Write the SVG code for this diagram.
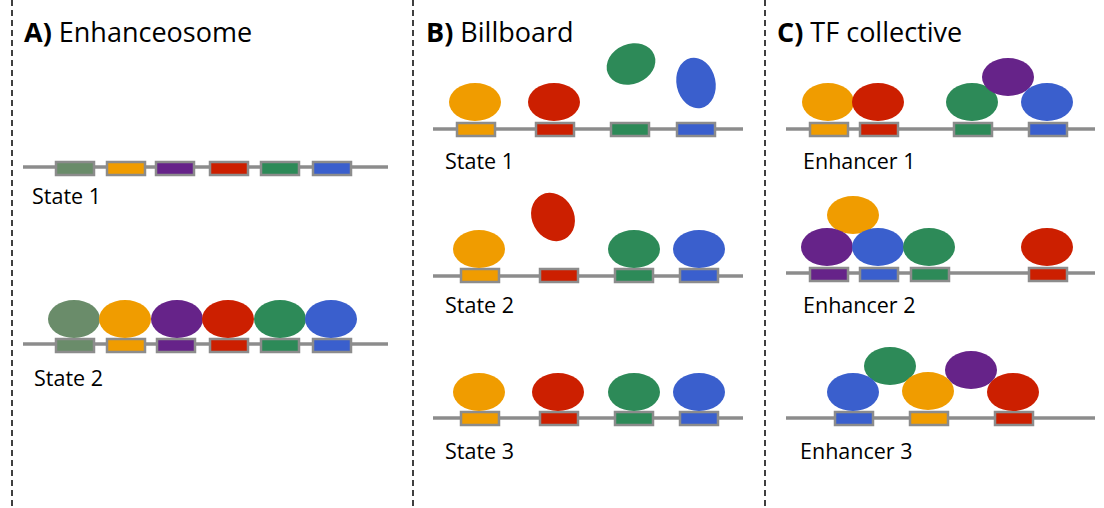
<svg xmlns="http://www.w3.org/2000/svg" width="1104" height="508" viewBox="0 0 1104 508">
<style>
.bg{fill:#ffffff}
.div{stroke:#000;stroke-width:1.5;stroke-dasharray:6 4;fill:none}
.dna{stroke:#8c8c8c;stroke-width:3.5;fill:none}
.box{stroke:#8c8c8c;stroke-width:2.5}
.t{font-family:"Open Sans","Noto Sans",sans-serif;fill:#000}
.title{font-size:27px}
.lbl{font-size:21.5px}
.b{font-weight:bold}
.sg{fill:#6a8c6a}
.or{fill:#f09c00}
.pu{fill:#662389}
.rd{fill:#cc1f00}
.gr{fill:#2d8a58}
.bl{fill:#3a5fcd}
</style>
<rect class="bg" x="0" y="0" width="1104" height="508"/>
<g id="dividers">
<line class="div" x1="12" y1="0" x2="12" y2="508"/>
<line class="div" x1="413" y1="0" x2="413" y2="508"/>
<line class="div" x1="765" y1="0" x2="765" y2="508"/>
</g>

<g id="panelA">
<text class="t title" x="24" y="42"><tspan class="b">A)</tspan> Enhanceosome</text>
<g id="A-state1">
<line class="dna" x1="23" y1="167" x2="388" y2="167"/>
<rect class="box sg" x="56" y="162" width="38" height="13"/>
<rect class="box or" x="107" y="162" width="38" height="13"/>
<rect class="box pu" x="156" y="162" width="38" height="13"/>
<rect class="box rd" x="210" y="162" width="38" height="13"/>
<rect class="box gr" x="261" y="162" width="38" height="13"/>
<rect class="box bl" x="313" y="162" width="38" height="13"/>
<text class="t lbl" x="32" y="204">State 1</text>
</g>
<g id="A-state2">
<line class="dna" x1="23" y1="344" x2="388" y2="344"/>
<rect class="box sg" x="56" y="339" width="38" height="13"/>
<rect class="box or" x="107" y="339" width="38" height="13"/>
<rect class="box pu" x="157" y="339" width="38" height="13"/>
<rect class="box rd" x="210" y="339" width="38" height="13"/>
<rect class="box gr" x="261" y="339" width="38" height="13"/>
<rect class="box bl" x="313" y="339" width="38" height="13"/>
<ellipse class="sg" cx="74" cy="319" rx="26" ry="19"/>
<ellipse class="or" cx="125" cy="319" rx="26" ry="19"/>
<ellipse class="pu" cx="177" cy="319" rx="26" ry="19"/>
<ellipse class="rd" cx="228" cy="319" rx="26" ry="19"/>
<ellipse class="gr" cx="280" cy="319" rx="26" ry="19"/>
<ellipse class="bl" cx="331" cy="319" rx="26" ry="19"/>
<text class="t lbl" x="34" y="386">State 2</text>
</g>
</g>

<g id="panelB">
<text class="t title" x="426" y="42"><tspan class="b">B)</tspan> Billboard</text>
<g id="B-state1">
<line class="dna" x1="433" y1="129" x2="743" y2="129"/>
<rect class="box or" x="457" y="123" width="38" height="13"/>
<rect class="box rd" x="536" y="123" width="38" height="13"/>
<rect class="box gr" x="611" y="123" width="38" height="13"/>
<rect class="box bl" x="677" y="123" width="38" height="13"/>
<ellipse class="or" cx="475" cy="102" rx="26" ry="19"/>
<ellipse class="rd" cx="554" cy="102" rx="26" ry="19"/>
<ellipse class="gr" cx="631" cy="64" rx="25" ry="20" transform="rotate(-22 631 64)"/>
<ellipse class="bl" cx="696" cy="83" rx="19.5" ry="25.5" transform="rotate(-12 696 83)"/>
<text class="t lbl" x="445" y="169">State 1</text>
</g>
<g id="B-state2">
<line class="dna" x1="433" y1="276" x2="743" y2="276"/>
<rect class="box or" x="461" y="269" width="38" height="13"/>
<rect class="box rd" x="540" y="269" width="38" height="13"/>
<rect class="box gr" x="615" y="269" width="38" height="13"/>
<rect class="box bl" x="680" y="269" width="38" height="13"/>
<ellipse class="or" cx="479" cy="249" rx="26" ry="19"/>
<ellipse class="rd" cx="553" cy="217" rx="21" ry="25" transform="rotate(-28 553 217)"/>
<ellipse class="gr" cx="634" cy="249" rx="26" ry="19"/>
<ellipse class="bl" cx="699" cy="249" rx="26" ry="19"/>
<text class="t lbl" x="445" y="313">State 2</text>
</g>
<g id="B-state3">
<line class="dna" x1="433" y1="418" x2="743" y2="418"/>
<rect class="box or" x="461" y="412" width="38" height="13"/>
<rect class="box rd" x="540" y="412" width="38" height="13"/>
<rect class="box gr" x="615" y="412" width="38" height="13"/>
<rect class="box bl" x="680" y="412" width="38" height="13"/>
<ellipse class="or" cx="479" cy="392" rx="26" ry="19"/>
<ellipse class="rd" cx="558" cy="392" rx="26" ry="19"/>
<ellipse class="gr" cx="634" cy="392" rx="26" ry="19"/>
<ellipse class="bl" cx="699" cy="392" rx="26" ry="19"/>
<text class="t lbl" x="445" y="459">State 3</text>
</g>
</g>

<g id="panelC">
<text class="t title" x="777" y="42"><tspan class="b">C)</tspan> TF collective</text>
<g id="C-enhancer1">
<line class="dna" x1="786" y1="129" x2="1095" y2="129"/>
<rect class="box or" x="810" y="123" width="38" height="13"/>
<rect class="box rd" x="860" y="123" width="38" height="13"/>
<rect class="box gr" x="954" y="123" width="38" height="13"/>
<rect class="box bl" x="1029" y="123" width="38" height="13"/>
<ellipse class="or" cx="828" cy="102" rx="26" ry="19"/>
<ellipse class="rd" cx="878" cy="102" rx="26" ry="19"/>
<ellipse class="gr" cx="972" cy="102" rx="26" ry="19"/>
<ellipse class="pu" cx="1008" cy="77" rx="26" ry="19"/>
<ellipse class="bl" cx="1047" cy="102" rx="26" ry="19"/>
<text class="t lbl" x="803" y="169">Enhancer 1</text>
</g>
<g id="C-enhancer2">
<line class="dna" x1="786" y1="273" x2="1095" y2="273"/>
<rect class="box pu" x="810" y="268" width="38" height="13"/>
<rect class="box bl" x="860" y="268" width="38" height="13"/>
<rect class="box gr" x="911" y="268" width="38" height="13"/>
<rect class="box rd" x="1029" y="268" width="38" height="13"/>
<ellipse class="or" cx="853" cy="215" rx="26" ry="19"/>
<ellipse class="pu" cx="827" cy="247" rx="26" ry="19"/>
<ellipse class="bl" cx="878" cy="247" rx="26" ry="19"/>
<ellipse class="gr" cx="929" cy="247" rx="26" ry="19"/>
<ellipse class="rd" cx="1047" cy="247" rx="26" ry="19"/>
<text class="t lbl" x="803" y="313">Enhancer 2</text>
</g>
<g id="C-enhancer3">
<line class="dna" x1="786" y1="418" x2="1095" y2="418"/>
<rect class="box bl" x="835" y="412" width="38" height="13"/>
<rect class="box or" x="910" y="412" width="38" height="13"/>
<rect class="box rd" x="995" y="412" width="38" height="13"/>
<ellipse class="gr" cx="890" cy="366" rx="26" ry="19"/>
<ellipse class="pu" cx="971" cy="370" rx="26" ry="19"/>
<ellipse class="bl" cx="853" cy="392" rx="26" ry="19"/>
<ellipse class="or" cx="928" cy="391" rx="26" ry="19"/>
<ellipse class="rd" cx="1013" cy="392" rx="26" ry="19"/>
<text class="t lbl" x="800" y="459">Enhancer 3</text>
</g>
</g>
</svg>
